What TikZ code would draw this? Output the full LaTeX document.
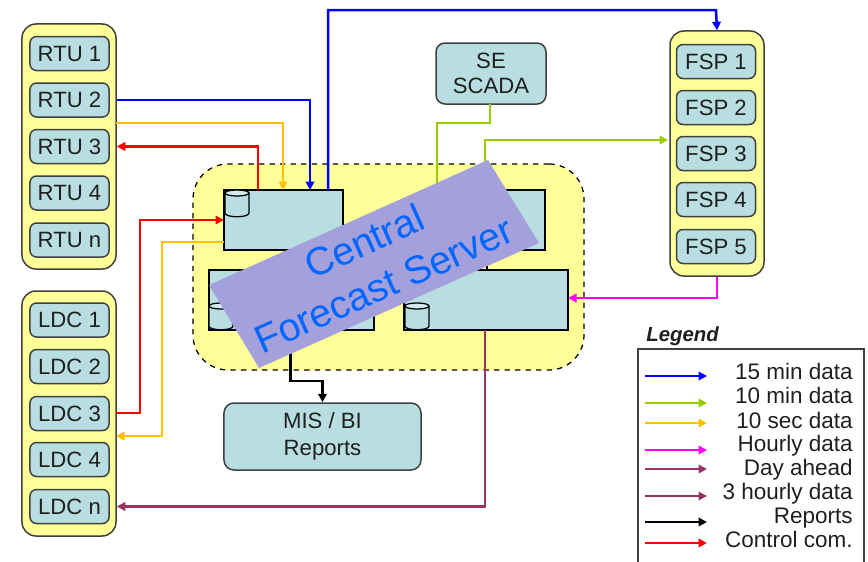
\documentclass[tikz,border=0pt]{standalone}
\usepackage{fontspec}
\setmainfont{Liberation Sans}
\usepackage{xcolor}
\definecolor{padyellow}{HTML}{FFFF99}
\definecolor{boxcyan}{HTML}{B8DEE1}
\definecolor{bandviolet}{HTML}{A3A0DC}
\definecolor{bandtext}{HTML}{0066FF}
\definecolor{inkdark}{HTML}{1F1F1F}
\definecolor{edgegray}{HTML}{404040}
\definecolor{line15}{HTML}{0000FF}
\definecolor{line10}{HTML}{99CC00}
\definecolor{linesec}{HTML}{FFC000}
\definecolor{linehour}{HTML}{FF00FF}
\definecolor{lineday}{HTML}{993366}
\definecolor{linectrl}{HTML}{FF0000}
\usepackage{tikz}
\usetikzlibrary{arrows.meta}
\tikzset{
  grouppad/.style={rectangle, rounded corners=2.8mm, draw=edgegray, fill=padyellow, line width=0.3mm,
    minimum width=18.8mm, minimum height=49mm},
  unitbox/.style={rectangle, rounded corners=1.3mm, draw=edgegray, fill=boxcyan, line width=0.3mm,
    minimum width=15.8mm, minimum height=6.8mm, inner sep=0pt, text=inkdark,
    font=\fontsize{12.6}{15}\selectfont},
  roundbox/.style={rectangle, rounded corners=1.8mm, draw=edgegray, fill=boxcyan, line width=0.3mm,
    align=center, inner sep=0pt, text=inkdark, font=\fontsize{12.6}{14.2}\selectfont},
  serverpad/.style={rectangle, rounded corners=7mm, draw=black, dashed, fill=padyellow, line width=0.25mm,
    minimum width=78.2mm, minimum height=41.2mm},
  modbox/.style={rectangle, draw=black, fill=boxcyan, line width=0.3mm, inner sep=0pt, minimum height=12mm},
  canbody/.style={draw=black, fill=boxcyan, line width=0.25mm},
  cantop/.style={draw=black, fill=boxcyan!60!white, line width=0.25mm},
  bandtxt/.style={rotate=24.1, align=center, inner sep=0pt, text=bandtext,
    font=\fontsize{22.3}{27}\selectfont},
  legtext/.style={anchor=base east, inner sep=0pt, text=inkdark, font=\fontsize{12.8}{15}\selectfont},
  flow/.style={line width=0.5mm, -{Triangle[length=1.7mm,width=1.7mm]}},
  flowplain/.style={line width=0.5mm},
}
\newcommand{\dbcan}[2]{
  \draw[canbody] (#1,#2+3) -- (#1,#2+23) .. controls (#1,#2+28) and (#1+24,#2+28) .. (#1+24,#2+23) -- (#1+24,#2+3);
  \draw[cantop] (#1+12,#2+3) ellipse [x radius=12, y radius=3];
}
\begin{document}
\begin{tikzpicture}[x=0.2mm,y=-0.2mm]
  \useasboundingbox (0,0) rectangle (868,562);

  % left and right groups
  \node[grouppad] (rtugroup) at (69,146.5) {};
  \node[grouppad] (ldcgroup) at (69,413.5) {};
  \node[grouppad] (fspgroup) at (717,153.5) {};

  \node[unitbox] (rtu1) at (69.5,53.5)  {RTU 1};
  \node[unitbox] (rtu2) at (69.5,100)   {RTU 2};
  \node[unitbox] (rtu3) at (69.5,146.5) {RTU 3};
  \node[unitbox] (rtu4) at (69.5,193)   {RTU 4};
  \node[unitbox] (rtun) at (69.5,240)   {RTU n};

  \node[unitbox] (ldc1) at (69.5,320)   {LDC 1};
  \node[unitbox] (ldc2) at (69.5,366.5) {LDC 2};
  \node[unitbox] (ldc3) at (69.5,413.5) {LDC 3};
  \node[unitbox] (ldc4) at (69.5,459.5) {LDC 4};
  \node[unitbox] (ldcn) at (69.5,506.5) {LDC n};

  \node[unitbox] (fsp1) at (716,61.5)  {FSP 1};
  \node[unitbox] (fsp2) at (716,107.5) {FSP 2};
  \node[unitbox] (fsp3) at (716,153.5) {FSP 3};
  \node[unitbox] (fsp4) at (716,199.5) {FSP 4};
  \node[unitbox] (fsp5) at (716,246.5) {FSP 5};

  % central server
  \node[serverpad] (server) at (388.5,267) {};
  \node[modbox, minimum width=23.8mm] (modA) at (283.5,220) {};
  \node[modbox, minimum width=21.6mm] (modB) at (491,220) {};
  \node[modbox, minimum width=33mm] (modC) at (291.5,300) {};
  \node[modbox, minimum width=32.8mm] (modD) at (486,300) {};
  \dbcan{225}{190}
  \dbcan{209}{303}
  \dbcan{405}{303}

  \node[roundbox, minimum width=22mm, minimum height=12.2mm] (scada) at (491,73.5) {SE\\SCADA};
  \node[roundbox, minimum width=39.4mm, minimum height=13.4mm, rounded corners=2mm] (mis) at (322.5,436.5) {MIS / BI\\[0.4mm]Reports};

  % free ends on the boxes
  \coordinate (aIn15) at (310,190);
  \coordinate (aOut15) at (328,190);
  \coordinate (aInSec) at (283,190);
  \coordinate (aOutCtrl) at (258,190);
  \coordinate (aInCtrl) at (224,220);
  \coordinate (aOutSec) at (224,242);
  \coordinate (rtuOutSec) at (116,123);
  \coordinate (bIn10) at (437,190);
  \coordinate (bOut10) at (485,190);
  \coordinate (scadaOut) at (490,104);
  \coordinate (fspIn10) at (668,140);
  \coordinate (dOut) at (485,330);
  \coordinate (dOutTop) at (487,270);
  \coordinate (bOutLow) at (487,250);
  \coordinate (cOut) at (290.5,330);
  \coordinate (dInHour) at (568,298);
  \coordinate (ldc3Out) at (116,413);
  \coordinate (ldc4In) at (116,436);

  % connectors
  \draw[flow, color=line15] (rtugroup.east |- rtu2.east) -| (aIn15);
  \draw[flow, color=line15] (aOut15) |- (716,10) -- (fspgroup.north);
  \draw[flow, color=linesec] (rtuOutSec) -| (aInSec);
  \draw[flow, color=linectrl] (aOutCtrl) |- (rtugroup.east |- rtu3.east);
  \draw[flow, color=linectrl] (ldc3Out) -- (140,413) |- (aInCtrl);
  \draw[flow, color=linesec] (aOutSec) -- (162,242) |- (ldc4In);
  \draw[flowplain, color=line10] (scadaOut) -- (490,123) -| (bIn10);
  \draw[flow, color=line10] (bOut10) |- (fspIn10);
  \draw[flow, color=linehour] (fspgroup.south) |- (dInHour);
  \draw[flow, color=lineday] (dOut) |- (ldcgroup.east |- ldcn.east);
  \draw[flow, color=black] (cOut) |- (mis.north |- 0,381) -- (mis.north);
  \draw[flowplain, color=black] (bOutLow) -- (dOutTop);

  % banner
  \fill[bandviolet] (488,160) -- (539,243) -- (259,368) -- (209,285) -- cycle;
  \node[bandtxt] (band) at (374,263) {Central\\Forecast Server};

  % legend
  \node[anchor=west, inner sep=0pt, text=inkdark, font=\fontsize{11.6}{14}\bfseries\itshape\selectfont] (legtitle) at (646,336) {Legend};
  \coordinate (legSW) at (638,563);
  \coordinate (legNW) at (638,349);
  \coordinate (legNE) at (864,349);
  \coordinate (legSE) at (864,563);
  \draw[edgegray, line width=0.3mm] (legSW) -- (legNW) -- (legNE) -- (legSE);

  \coordinate (a1) at (645,376); \coordinate (b1) at (707,376);
  \coordinate (a2) at (645,403); \coordinate (b2) at (707,403);
  \coordinate (a3) at (645,423); \coordinate (b3) at (707,423);
  \coordinate (a4) at (645,450); \coordinate (b4) at (707,450);
  \coordinate (a5) at (645,469); \coordinate (b5) at (707,469);
  \coordinate (a6) at (645,496); \coordinate (b6) at (707,496);
  \coordinate (a7) at (645,522); \coordinate (b7) at (707,522);
  \coordinate (a8) at (645,543); \coordinate (b8) at (707,543);
  \draw[flow, color=line15] (a1) -- (b1);
  \draw[flow, color=line10] (a2) -- (b2);
  \draw[flow, color=linesec] (a3) -- (b3);
  \draw[flow, color=linehour] (a4) -- (b4);
  \draw[flow, color=lineday] (a5) -- (b5);
  \draw[flow, color=lineday] (a6) -- (b6);
  \draw[flow, color=black] (a7) -- (b7);
  \draw[flow, color=linectrl] (a8) -- (b8);

  \node[legtext] (leg1) at (853,379) {15 min data};
  \node[legtext] (leg2) at (853,403) {10 min data};
  \node[legtext] (leg3) at (853,428) {10 sec data};
  \node[legtext] (leg4) at (853,451) {Hourly data};
  \node[legtext] (leg5) at (853,475) {Day ahead};
  \node[legtext] (leg6) at (853,499) {3 hourly data};
  \node[legtext] (leg7) at (853,523) {Reports};
  \node[legtext] (leg8) at (853,547) {Control com.};
\end{tikzpicture}
\end{document}
